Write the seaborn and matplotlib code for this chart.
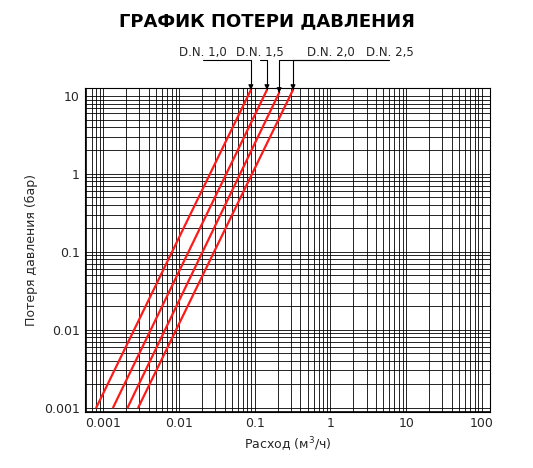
import matplotlib
matplotlib.use("Agg")
import matplotlib.pyplot as plt
import seaborn as sns
import pandas as pd
from matplotlib.ticker import LogLocator, FixedLocator, FixedFormatter

sns.set_style("white")
plt.rcParams['font.family'] = ['DejaVu Sans']

labels = ["D.N. 1,0", "D.N. 1,5", "D.N. 2,0", "D.N. 2,5"]
q_low = [0.00081, 0.00135, 0.0021, 0.0029]
q_high = [0.089, 0.145, 0.21, 0.32]
p_low = [0.001, 0.001, 0.001, 0.001]
p_high = [12.0, 12.0, 11.0, 12.0]
xticks = [0.001, 0.01, 0.1, 1, 10, 100]
xticklabels = ["0.001", "0.01", "0.1", "1", "10", "100"]
yticks = [0.001, 0.01, 0.1, 1, 10]
yticklabels = ["0.001", "0.01", "0.1", "1", "10"]

rows = []
for l, a, b, c, d in zip(labels, q_low, q_high, p_low, p_high):
    rows.append((l, a, c)); rows.append((l, b, d))
df = pd.DataFrame(rows, columns=["dn", "q", "p"])

fig = plt.figure(figsize=(5.33, 4.68), dpi=100)
ax = fig.add_axes([0.159, 0.12, 0.76, 0.692])
ax.set_xscale("log"); ax.set_yscale("log")
ax.set_xlim(0.00057, 127); ax.set_ylim(0.00088, 12.7)
ax.grid(True, which="both", color="black", linewidth=0.6)
ax.set_axisbelow(True)
sns.lineplot(data=df, x="q", y="p", hue="dn", palette=["#ff1a1a"]*4, legend=False,
             linewidth=1.6, ax=ax)
ax.xaxis.set_major_locator(FixedLocator(xticks))
ax.xaxis.set_major_formatter(FixedFormatter(xticklabels))
ax.yaxis.set_major_locator(FixedLocator(yticks))
ax.yaxis.set_major_formatter(FixedFormatter(yticklabels))
ax.xaxis.set_minor_locator(LogLocator(base=10, subs=range(2, 10), numticks=20))
ax.yaxis.set_minor_locator(LogLocator(base=10, subs=range(2, 10), numticks=20))
ax.tick_params(which="both", length=0, labelsize=9)
for s in ax.spines.values():
    s.set_color("black"); s.set_linewidth(0.8)
ax.set_xlabel("Расход (м$^3$/ч)", fontsize=9)
ax.set_ylabel("Потеря давления (бар)", fontsize=9)

label_x = [0.0205, 0.116, 1.0, 6.0]
for l, lx, qx, py in zip(labels, label_x, q_high, p_high):
    ax.text(lx, 30, l, fontsize=8.5, ha="center", va="bottom", clip_on=False)
    ax.annotate("", xy=(qx, py), xytext=(lx, 29), annotation_clip=False,
                arrowprops=dict(arrowstyle="-|>", color="black", lw=0.8,
                                connectionstyle="angle,angleA=0,angleB=90,rad=0",
                                shrinkA=0, shrinkB=0, mutation_scale=7))
fig.text(0.5, 0.955, "ГРАФИК ПОТЕРИ ДАВЛЕНИЯ", ha="center", va="center",
         fontsize=13, fontweight="bold", color="black")
fig.savefig("out.png", dpi=100)
